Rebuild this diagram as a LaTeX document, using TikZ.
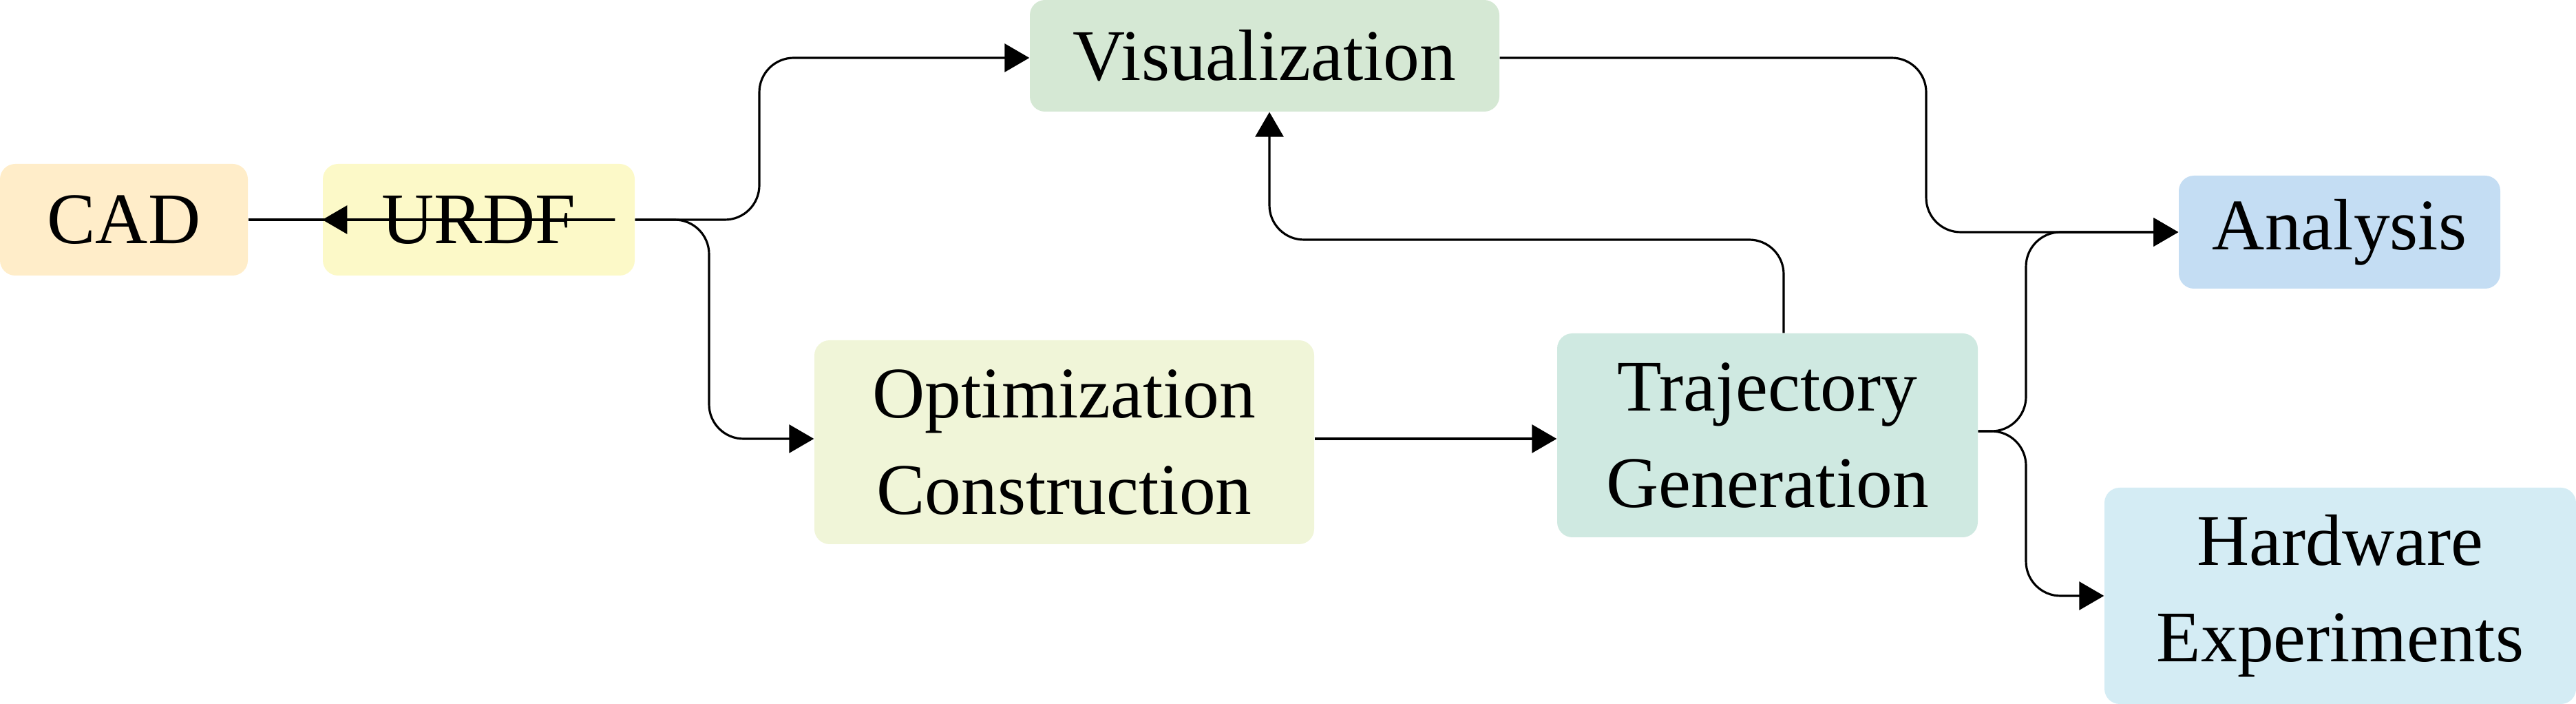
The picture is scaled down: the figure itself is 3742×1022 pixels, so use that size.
\documentclass[tikz,border=0pt]{standalone}
\usepackage{fontspec}
\setmainfont{Liberation Serif}
\usetikzlibrary{arrows.meta}
\definecolor{cCAD}{HTML}{FFEDC9}
\definecolor{cURDF}{HTML}{FCF9C8}
\definecolor{cViz}{HTML}{D5E8D4}
\definecolor{cOpt}{HTML}{F0F5D8}
\definecolor{cTraj}{HTML}{CFE9E1}
\definecolor{cAna}{HTML}{C4DDF3}
\definecolor{cHw}{HTML}{D4ECF4}
\begin{document}
\begin{tikzpicture}[x=0.01cm,y=-0.01cm,
  box/.style={rounded corners=0.22cm,inner sep=0pt,align=center,font=\fontsize{30}{40}\selectfont},
  con/.style={line width=0.9pt,rounded corners=0.5cm},
  arr/.style={con,-{Triangle[length=0.36cm,width=0.41cm]}}]
\useasboundingbox (0,0) rectangle (3742,1022);
\newcommand{\bx}[6]{\fill[#6,rounded corners=0.22cm] (#2,#3) rectangle (#4,#5);
  \node[box] (#1) at ({(#2+#4)/2},{(#3+#5)/2}) [minimum width={(#4-#2)*0.01cm},minimum height={(#5-#3)*0.01cm}] {};}
\bx{cad}{0}{238}{360}{400}{cCAD}
\bx{urdf}{469}{238}{922}{400}{cURDF}
\bx{viz}{1496}{0}{2178}{162}{cViz}
\bx{opt}{1183}{494}{1909}{790}{cOpt}
\bx{traj}{2262}{484}{2873}{780}{cTraj}
\bx{ana}{3165}{255}{3632}{419}{cAna}
\bx{hw}{3057}{708}{3742}{1022}{cHw}
\node[box] at (cad) {CAD};
\node[box] at (urdf) {URDF};
\node[box] at (viz) {Visualization};
\node[box] at (opt) {Optimization\\Construction};
\node[box] at (traj) {Trajectory\\Generation};
\node[box] at (ana) {Analysis};
\node[box] at (hw) {Hardware\\Experiments};
\coordinate (j1) at (1103,84);
\coordinate (j2) at (1030,637);
\coordinate (j3) at (2798,84);
\coordinate (j4) at (2943,337);
\coordinate (j5) at (2943,865);
\coordinate (t1) at (2591,348);
\coordinate (t2) at (1844,348);
\draw[arr] (cad.east) -- (urdf.east |- cad.east) -- (urdf.west);
\draw[arr] (urdf.east) -| (j1) -- (viz.west |- j1);
\draw[arr] (urdf.east) -| (j2) -- (opt.west |- j2);
\draw[arr] (opt.east |- j2) -- (traj.west |- j2);
\draw[arr] (traj.north -| t1) |- (t2) -- (viz.south -| t2);
\draw[arr] (viz.east |- j3) -| (j3 |- ana.west) -- (ana.west);
\draw[arr] (traj.east |- 0,626) -| (j4) -- (ana.west);
\draw[arr] (traj.east |- 0,626) -| (j5) -- (hw.west |- j5);
\end{tikzpicture}
\end{document}
